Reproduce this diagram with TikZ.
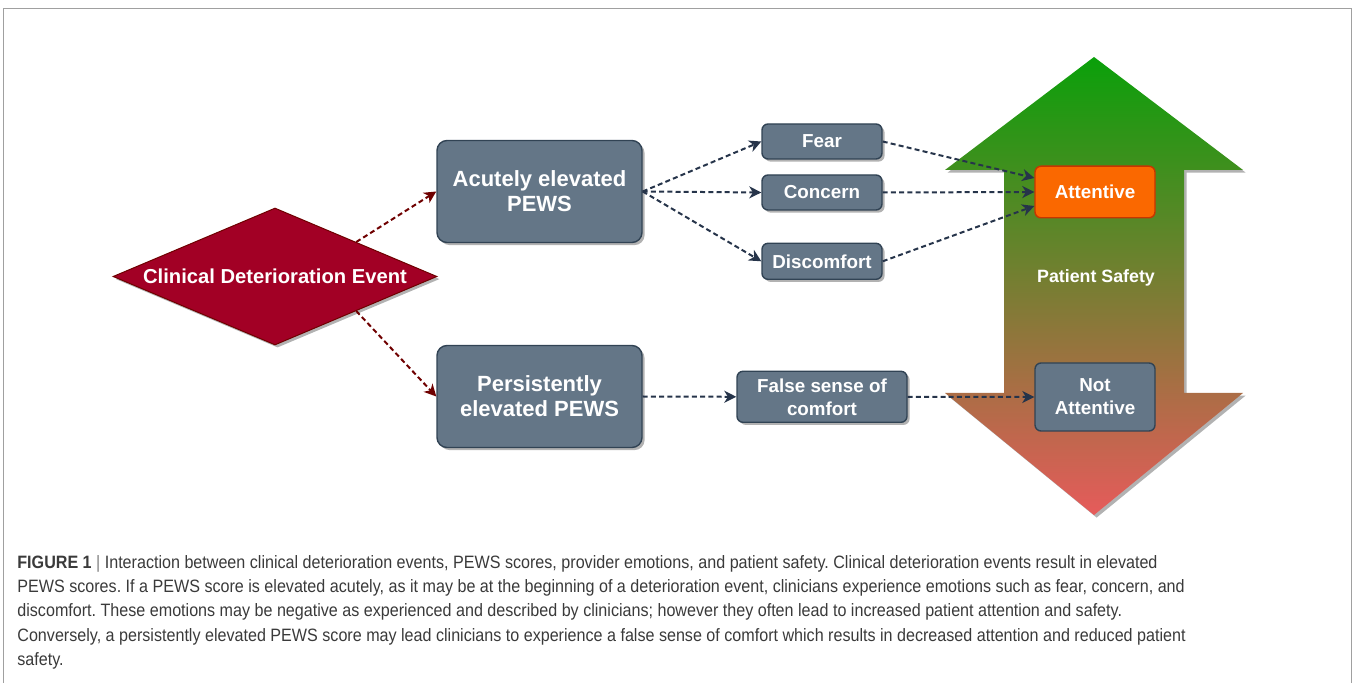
\documentclass[tikz,border=0pt]{standalone}
\usepackage{fontspec}
\setmainfont{Liberation Sans}
\newfontfamily\capfont[FakeStretch=0.9]{Liberation Sans}
\usetikzlibrary{shapes.geometric,arrows.meta,calc,shadows}
\definecolor{slate}{HTML}{647687}
\definecolor{slateline}{HTML}{314354}
\definecolor{crimson}{HTML}{A20025}
\definecolor{crimsonline}{HTML}{6F0000}
\definecolor{orangef}{HTML}{FA6800}
\definecolor{orangeline}{HTML}{C73500}
\definecolor{navy}{HTML}{26344A}
\definecolor{captxt}{HTML}{3A3A3A}
\definecolor{frame}{HTML}{A0A0A0}
\definecolor{gtop}{HTML}{0AA00A}
\definecolor{gbot}{HTML}{E65B5B}
\tikzset{
  shad/.style={drop shadow={shadow xshift=1.3pt, shadow yshift=-1.3pt, opacity=0.3, fill=black}},
  bigbox/.style={shad, rectangle, rounded corners=5pt, fill=slate, draw=slateline, line width=0.7pt,
    text=white, font=\fontsize{11}{12.5}\selectfont\bfseries, align=center,
    minimum width=102.5pt, minimum height=51pt, inner sep=0pt},
  smallbox/.style={rectangle, rounded corners=3pt, fill=slate, draw=slateline, line width=0.7pt,
    text=white, font=\fontsize{9.4}{11.5}\selectfont\bfseries, align=center,
    minimum width=60pt, inner sep=0pt},
  event/.style={shad, diamond, aspect=2.35, fill=crimson, draw=crimsonline, line width=0.5pt,
    text=white, font=\fontsize{10.1}{12}\selectfont\bfseries,
    minimum width=162pt, minimum height=68.5pt, inner sep=0pt},
  redlink/.style={draw=crimsonline, line width=1pt, dash pattern=on 2.5pt off 1.6pt,
    -{Stealth[length=6pt, width=6pt, inset=1.8pt]}},
  navylink/.style={draw=navy, line width=1pt, dash pattern=on 2.5pt off 1.6pt,
    -{Stealth[length=6pt, width=6pt, inset=1.8pt]}},
}
\begin{document}
\begin{tikzpicture}[x=0.5pt, y=-0.5pt]
\useasboundingbox (0,0) rectangle (1354,683);
% frame
\draw[frame, line width=0.5pt] (3,683) -- (3,9) -- (1351,9) -- (1351,683);

% big double arrow
\path[shad, top color=gtop, bottom color=gbot]
  (1094,57) -- (1243,170) -- (1184,170) -- (1184,393) -- (1243,393) -- (1094,515)
  -- (945,393) -- (1004,393) -- (1004,170) -- (945,170) -- cycle;
\node[text=white, font=\fontsize{8.9}{10}\selectfont\bfseries] (ps) at (1096,278) {Patient Safety};

% nodes
\node[event] (ev) at (275,276.5) {Clinical Deterioration Event};
\node[bigbox] (ac) at (539.5,191.5) {Acutely elevated\\PEWS};
\node[bigbox] (pe) at (539.5,396.5) {Persistently\\elevated PEWS};
\node[smallbox, shad, minimum height=17.5pt] (fe) at (822,141.5) {Fear};
\node[smallbox, shad, minimum height=17.5pt] (co) at (822,192.5) {Concern};
\node[smallbox, shad, minimum height=18pt] (di) at (822,261.3) {Discomfort};
\node[smallbox, shad, minimum width=85pt, minimum height=25.5pt] (fs) at (822,396.8) {False sense of\\comfort};
\node[smallbox, fill=orangef, draw=orangeline, minimum height=25.8pt] (at) at (1095,192) {Attentive};
\node[smallbox, minimum height=34pt] (na) at (1095,397) {Not\\Attentive};

% connectors
\draw[redlink] (ev.north east) -- (ac.west);
\draw[redlink] (ev.south east) -- (pe.west);
\draw[navylink] (ac.east) -- (fe.west);
\draw[navylink] (ac.east) -- (co.west);
\draw[navylink] (ac.east) -- (di.west);
\draw[navylink] (fe.east) -- ($(at.west)+(0,-14)$);
\draw[navylink] (co.east) -- (at.west);
\draw[navylink] (di.east) -- ($(at.west)+(0,14)$);
\draw[navylink] (pe.east) -- (fs.west);
\draw[navylink] (fs.east) -- (na.west);

% caption
\node[anchor=north west, align=left, inner sep=0pt, text=captxt,
  font=\frenchspacing\capfont\fontsize{8.95}{12.15}\selectfont] (cap) at (17,555)
{\textbf{FIGURE 1} \textcolor{gray}{|} Interaction between clinical deterioration events, PEWS scores, provider emotions, and patient safety. Clinical deterioration events result in elevated\\
PEWS scores. If a PEWS score is elevated acutely, as it may be at the beginning of a deterioration event, clinicians experience emotions such as fear, concern, and\\
discomfort. These emotions may be negative as experienced and described by clinicians; however they often lead to increased patient attention and safety.\\
Conversely, a persistently elevated PEWS score may lead clinicians to experience a false sense of comfort which results in decreased attention and reduced patient\\
safety.};
\end{tikzpicture}
\end{document}
